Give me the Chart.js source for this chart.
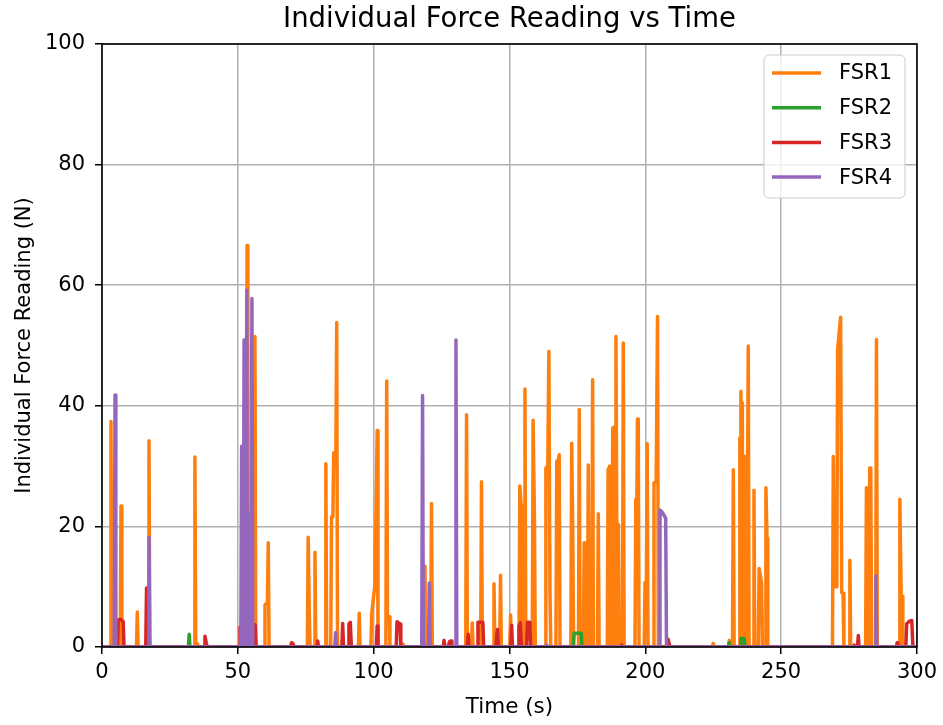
<!DOCTYPE html>
<html>
<head>
<meta charset="utf-8">
<script src="https://cdn.jsdelivr.net/npm/chart.js@4.4.0/dist/chart.umd.min.js"></script>
<style>
  body { margin: 0; background: #fff; }
</style>
</head>
<body>
<canvas id="myChart" width="943" height="725"></canvas>
<script>
// readings, time in s, force in N
var seriesNames = ["FSR1", "FSR2", "FSR3", "FSR4"];
var seriesColors = ["#ff7f0e", "#2ca02c", "#d62728", "#9467bd"];
var xTicks = [0, 50, 100, 150, 200, 250, 300];
var yTicks = [0, 20, 40, 60, 80, 100];

var fsr1Time = [0, 3.0, 3.3, 3.6, 6.7, 7.0, 7.3, 12.7, 13.0, 13.3, 17.0, 17.3, 17.6,
  33.9, 34.2, 34.5, 35.2, 35.4, 53.1, 53.4, 53.7, 56.0, 56.3, 56.6,
  59.7, 60.0, 60.9, 61.2, 61.5, 75.6, 75.9, 76.3, 76.6, 78.1, 78.4, 78.7,
  82.1, 82.4, 82.7, 84.2, 84.5, 85.0, 85.3, 86.1, 86.4, 86.7,
  94.4, 94.7, 95.0, 99.0, 99.3, 100.5, 101.3, 101.6, 104.5, 104.8, 105.1, 105.8, 106.0,
  110.5, 110.8, 111.1, 118.6, 118.9, 119.2, 121.0, 121.3, 121.6,
  133.9, 134.2, 134.5, 136.0, 136.3, 136.6, 139.4, 139.7, 140.0,
  144.0, 144.3, 144.6, 146.4, 146.7, 147.0, 150.1, 150.4, 150.7,
  153.5, 153.8, 154.3, 154.6, 155.4, 155.7, 156.0, 158.4, 158.7, 159.2, 159.5,
  163.1, 163.4, 164.1, 164.5, 164.9, 165.2, 167.1, 167.4, 168.0, 168.3, 168.6,
  172.6, 172.9, 173.3, 173.6, 175.4, 175.7, 176.0, 177.2, 177.5, 177.8,
  178.7, 179.0, 179.3, 180.3, 180.6, 180.9, 182.4, 182.7, 183.0,
  186.0, 186.3, 186.9, 187.1, 187.7, 188.0, 188.6, 188.9, 189.2, 189.5, 190.1, 190.4,
  191.6, 191.9, 192.2,
  196.2, 196.5, 196.9, 197.1, 197.4, 197.7, 199.6, 199.9, 200.4, 200.7, 201.0,
  202.9, 203.2, 204.0, 204.5, 204.8,
  224.7, 225.0, 225.3, 230.6, 230.9, 231.2, 232.1, 232.4, 232.7,
  234.5, 234.8, 235.1, 235.2, 235.5, 235.7, 236.0, 236.4, 237.0, 237.3, 237.9, 238.2,
  239.7, 240.0, 240.3, 241.6, 241.9, 242.8, 243.1, 244.1, 244.4, 244.8, 245.1,
  268.9, 269.2, 269.6, 270.5, 270.8, 271.9, 272.3, 272.8, 273.1, 275.0, 275.3, 275.6,
  281.1, 281.4, 281.7, 282.0, 282.3, 282.6, 283.0, 283.3, 284.8, 285.1, 285.4,
  293.4, 293.7, 294.2, 294.5, 294.8, 300];
var fsr1Force = [0, 0, 37.4, 0, 0, 23.4, 0, 0, 5.8, 0, 0, 34.2, 0,
  0, 31.5, 0.5, 0.5, 0, 0, 66.6, 0, 0, 51.5, 0,
  0, 7.0, 7.4, 17.3, 0, 0, 18.2, 6.0, 0, 0, 15.7, 0,
  0, 30.4, 0, 0, 21.6, 21.6, 32.2, 32.2, 53.8, 0,
  0, 5.6, 0, 0, 5.6, 10.5, 35.9, 0, 0, 44.1, 5.0, 5.0, 0,
  0, 0.5, 0, 0, 13.4, 0, 0, 23.8, 0,
  0, 38.5, 0, 0, 4.0, 0, 0, 27.4, 0,
  0, 10.5, 0, 0, 11.9, 0, 0, 5.3, 0,
  0, 26.7, 23.5, 0, 0, 42.8, 0, 0, 37.6, 21.0, 0,
  0, 29.7, 30.0, 49.0, 9.0, 0, 0, 30.8, 31.0, 31.9, 0,
  0, 33.8, 18.5, 0, 0, 39.4, 0, 0, 17.3, 0,
  0, 30.2, 0, 0, 44.3, 0, 0, 22.1, 0,
  0, 29.4, 30.0, 0, 0, 36.3, 36.5, 0, 51.5, 20.5, 20.3, 0,
  0, 50.4, 0,
  0, 24.5, 24.5, 37.8, 37.8, 0, 0, 10.7, 10.7, 33.7, 0,
  0, 27.2, 27.5, 54.8, 0,
  0, 0.6, 0, 0, 1.1, 0, 0, 29.4, 0,
  0, 34.7, 0, 42.4, 0, 40.5, 0, 31.6, 31.6, 0, 49.9, 0,
  0, 26.0, 0, 0, 13.0, 10.7, 0, 0, 26.4, 18.0, 0,
  0, 31.6, 10.0, 10.0, 49.3, 54.7, 9.0, 8.9, 0, 0, 14.4, 0,
  0, 26.4, 0, 26.4, 0, 29.7, 29.7, 0, 0, 51.0, 0,
  0, 24.5, 8.4, 8.4, 0, 0];

var fsr2Time = [0, 31.8, 32.1, 32.4, 173.5, 173.8, 176.4, 176.7, 230.6, 230.9, 231.2,
  234.9, 235.2, 236.4, 236.7, 300];
var fsr2Force = [0, 0, 2.1, 0, 0, 2.3, 2.3, 0, 0, 0.7, 0,
  0, 1.4, 1.4, 0, 0];

var fsr3Time = [0, 5.7, 6.0, 6.8, 7.8, 8.1, 16.1, 16.4, 16.7, 37.6, 37.9, 38.4, 38.8,
  50.5, 50.8, 51.1, 56.1, 56.4, 56.7, 69.4, 69.8, 70.4, 70.7, 79.1, 79.4, 79.7,
  88.3, 88.6, 88.9, 90.6, 90.9, 91.4, 91.8, 101.0, 101.3, 101.6, 108.3, 108.6, 109.7, 110.0,
  125.6, 125.9, 126.3, 127.5, 127.9, 128.5, 128.8, 134.5, 134.8, 135.1,
  138.1, 138.4, 140.2, 140.5, 145.0, 145.3, 145.6, 145.9, 150.5, 150.8, 151.1,
  153.2, 153.5, 154.0, 154.4, 156.3, 156.6, 157.5, 157.8, 191.0, 191.3, 191.6,
  208.1, 208.4, 208.9, 209.2, 276.6, 276.9, 277.2, 278.1, 278.4, 278.7,
  292.4, 292.7, 293.0, 295.9, 296.2, 297.0, 298.1, 298.5, 300];
var fsr3Force = [0, 0, 4.5, 4.6, 4.2, 0, 0, 9.8, 0, 0, 1.8, 0.6, 0,
  0, 3.3, 0, 0, 3.7, 0, 0, 0.7, 0.5, 0, 0, 1.0, 0,
  0, 3.9, 0, 0, 3.8, 4.1, 0, 0, 3.5, 0, 0, 4.2, 3.8, 0,
  0, 1.1, 0, 0, 0.9, 1.0, 0, 0, 2.1, 0,
  0, 4.1, 4.1, 0, 0, 1.8, 2.9, 0, 0, 3.6, 0,
  0, 3.5, 4.0, 0, 0, 4.1, 4.1, 0, 0, 0.3, 0,
  0, 1.3, 0.3, 0, 0, 0.3, 0, 0, 1.9, 0,
  0, 0.7, 0, 0, 3.8, 4.2, 4.4, 0, 0];

var fsr4Time = [0, 4.5, 4.8, 5.1, 17.0, 17.3, 17.6,
  51.1, 51.4, 51.6, 51.8, 52.0, 52.3, 52.5, 52.7, 52.9, 53.3, 53.5, 53.7, 53.9,
  54.1, 54.3, 54.5, 54.7, 55.2, 55.5,
  85.7, 86.0, 86.3, 117.7, 118.0, 118.3, 120.2, 120.5, 120.8, 130.0, 130.3, 130.6,
  163.4, 163.7, 164.0, 205.1, 205.4, 206.3, 207.2, 207.5, 207.8, 284.6, 284.9, 285.2, 300];
var fsr4Force = [0, 0, 41.8, 0, 0, 18.2, 0,
  0, 33.3, 0, 22.0, 0, 50.9, 0, 22.0, 0, 59.2, 0, 22.0, 0,
  22.0, 0, 22.0, 0, 57.8, 0,
  0, 2.4, 0, 0, 41.7, 0, 0, 10.6, 0, 0, 50.9, 0,
  0, 0.3, 0, 0, 22.7, 22.3, 21.6, 21.4, 0, 0, 11.8, 0, 0];

var times = [fsr1Time, fsr2Time, fsr3Time, fsr4Time];
var forces = [fsr1Force, fsr2Force, fsr3Force, fsr4Force];

var datasets = seriesNames.map(function (name, i) {
  return {
    label: name,
    data: times[i].map(function (t, j) {
      return { x: t, y: forces[i][j] };
    }),
    borderColor: seriesColors[i],
    backgroundColor: seriesColors[i],
    borderWidth: 3.5,
    borderCapStyle: "round",
    borderJoinStyle: "round",
    pointRadius: 0,
    tension: 0,
    fill: false,
    order: seriesNames.length - i, // later series on top, like matplotlib
  };
});

// black box round the plot area
var frame = {
  id: "frame",
  afterDatasetsDraw: function (chart) {
    var a = chart.chartArea;
    var ctx = chart.ctx;
    ctx.save();
    ctx.strokeStyle = "#000";
    ctx.lineWidth = 1.6;
    ctx.strokeRect(a.left, a.top, a.right - a.left, a.bottom - a.top);
    ctx.restore();
  },
};

// legend in the upper right corner of the plot
var boxLegend = {
  id: "boxLegend",
  afterDraw: function (chart) {
    var ctx = chart.ctx;
    var x = 764, y = 55, w = 141, h = 143, r = 5;
    ctx.save();
    ctx.beginPath();
    ctx.moveTo(x + r, y);
    ctx.lineTo(x + w - r, y);
    ctx.arcTo(x + w, y, x + w, y + r, r);
    ctx.lineTo(x + w, y + h - r);
    ctx.arcTo(x + w, y + h, x + w - r, y + h, r);
    ctx.lineTo(x + r, y + h);
    ctx.arcTo(x, y + h, x, y + h - r, r);
    ctx.lineTo(x, y + r);
    ctx.arcTo(x, y, x + r, y, r);
    ctx.closePath();
    ctx.fillStyle = "rgba(255,255,255,0.8)";
    ctx.fill();
    ctx.strokeStyle = "#cccccc";
    ctx.lineWidth = 1;
    ctx.stroke();
    ctx.font = "21px 'DejaVu Sans'";
    ctx.textBaseline = "middle";
    ctx.textAlign = "left";
    chart.data.datasets.forEach(function (ds, i) {
      var ry = y + 18 + i * 34.7;
      ctx.strokeStyle = ds.borderColor;
      ctx.lineWidth = 3.5;
      ctx.beginPath();
      ctx.moveTo(772, ry);
      ctx.lineTo(821, ry);
      ctx.stroke();
      ctx.fillStyle = "#000";
      ctx.fillText(ds.label, 839, ry + 1);
    });
    ctx.restore();
  },
};

Chart.defaults.font.family = "'DejaVu Sans'";
Chart.defaults.color = "#000";

var ctx = document.getElementById("myChart").getContext("2d");
var chart = new Chart(ctx, {
  type: "line",
  data: { datasets: datasets },
  options: {
    responsive: false,
    animation: false,
    layout: { padding: { left: 0, right: 26, top: 0, bottom: 0 } },
    plugins: {
      legend: { display: false },
      tooltip: { enabled: false },
      title: { display: false },
    },
    scales: {
      // empty top axis, only used so the title sits centred over the plot
      top: {
        type: "linear",
        position: "top",
        min: 0,
        max: 300,
        afterFit: function (scale) { scale.height = 44; },
        ticks: { display: false },
        grid: { display: false, drawTicks: false },
        border: { display: false },
        title: {
          display: true,
          text: "Individual Force Reading vs Time",
          font: { size: 27.5 },
          padding: { top: 3.5, bottom: 0 },
        },
      },
      x: {
        type: "linear",
        min: 0,
        max: 300,
        afterBuildTicks: function (scale) {
          scale.ticks = xTicks.map(function (v) { return { value: v }; });
        },
        afterFit: function (scale) { scale.height = 78; },
        ticks: { font: { size: 21 }, padding: 6, maxRotation: 0 },
        grid: { color: "#b0b0b0", lineWidth: 1.5, tickColor: "#000", tickLength: 7, tickWidth: 1.5 },
        border: { display: false },
        title: { display: true, text: "Time (s)", font: { size: 21.5 }, padding: { top: 0, bottom: 5 } },
      },
      y: {
        min: 0,
        max: 100,
        afterBuildTicks: function (scale) {
          scale.ticks = yTicks.map(function (v) { return { value: v }; });
        },
        afterFit: function (scale) { scale.width = 102; },
        ticks: { font: { size: 21 }, padding: 10 },
        grid: { color: "#b0b0b0", lineWidth: 1.5, tickColor: "#000", tickLength: 7, tickWidth: 1.5 },
        border: { display: false },
        title: { display: true, text: "Individual Force Reading (N)", font: { size: 21 }, padding: { top: 12, bottom: 0 } },
      },
    },
  },
  plugins: [frame, boxLegend],
});
</script>
</body>
</html>
